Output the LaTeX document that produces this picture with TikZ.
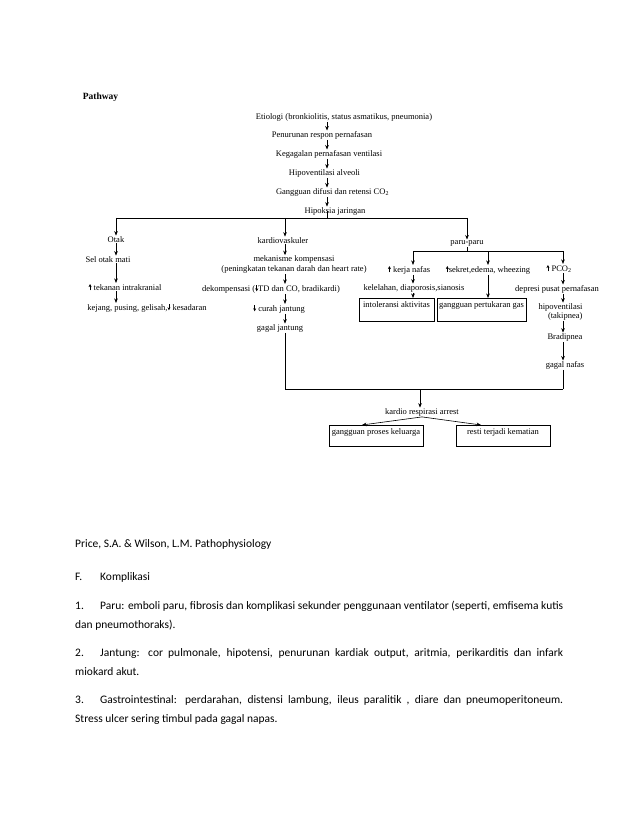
\documentclass[tikz,border=0pt]{standalone}
\usepackage{fontspec}
\setmainfont{Liberation Serif}
\newfontfamily\docfont{Carlito}
\usetikzlibrary{arrows.meta}

% small filled arrows used inside the labels
\newcommand{\upsym}{\tikz[baseline=0pt, x=1pt, y=1pt]\draw[-{Stealth[length=3pt,width=3pt]}, line width=0.7pt] (0,0) -- (0,6.2);}
\newcommand{\downsym}{\tikz[baseline=0pt, x=1pt, y=1pt]\draw[-{Stealth[length=3pt,width=3pt]}, line width=0.7pt] (0,6.2) -- (0,0);}

\begin{document}
\begin{tikzpicture}[
x=1pt, y=-1pt,
every node/.style={inner sep=0.6pt, font=\fontsize{8.5}{9.4}\selectfont},
box/.style={draw, line width=0.6pt, inner xsep=0pt, inner ysep=2pt, anchor=north},
arrow/.style={-{Stealth[length=4.5pt,width=3.6pt]}, line width=0.6pt},
link/.style={line width=0.6pt},
doc/.style={anchor=mid west, inner sep=0pt, font=\docfont\fontsize{11.47}{14}\selectfont}
]
\fill[white] (0,0) rectangle (638,826);
\useasboundingbox (0,0) rectangle (638,826);

% column positions
\coordinate (spine) at (327,0);
\coordinate (leftx) at (116,0);
\coordinate (cardx) at (285,0);
\coordinate (parux) at (467,0);
\coordinate (kerjax) at (413,0);
\coordinate (sekretx) at (488,0);
\coordinate (pcox) at (563,0);
\coordinate (arrestx) at (420,0);
\coordinate (bar) at (0,218);
\coordinate (fork) at (0,251);
\coordinate (join) at (0,389);

\node[anchor=mid west, font=\bfseries\fontsize{9.5}{11}\selectfont] (title) at (82,97) {Pathway};

% main chain
\node[anchor=mid] (etio) at (344,117) {Etiologi (bronkiolitis, status asmatikus, pneumonia)};
\node[anchor=mid] (penur) at (322,135) {Penurunan respon pernafasan};
\node[anchor=mid] (kegag) at (329,154) {Kegagalan pernafasan ventilasi};
\node[anchor=mid] (hipoal) at (324.5,173) {Hipoventilasi alveoli};
\node[anchor=mid] (difusi) at (332.5,192) {Gangguan difusi dan retensi CO\textsubscript{2}};
\node[anchor=mid] (hipoks) at (335,211) {Hipoksia jaringan};

% otak
\node[anchor=mid] (otak) at (116,240) {Otak};
\node[anchor=mid] (selotak) at (108,260) {Sel otak mati};
\node[anchor=mid] (tekanan) at (125,288) {\upsym{} tekanan intrakranial};
\node[anchor=mid] (kejang) at (147,308) {kejang, pusing, gelisah,\downsym{} kesadaran};

% kardiovaskuler
\node[anchor=mid] (kardio) at (283,241) {kardiovaskuler};
\node[align=center] (mekan) at (294,264.5) {mekanisme kompensasi\\(peningkatan tekanan darah dan heart rate)};
\node[anchor=mid] (dekomp) at (271,289) {dekompensasi (\downsym TD dan CO, bradikardi)};
\node[anchor=mid] (curah) at (279,309) {\downsym{} curah jantung};
\node[anchor=mid] (gagalj) at (280,328) {gagal jantung};

% paru-paru
\node[anchor=mid] (paru) at (467,242) {paru-paru};
\node[anchor=mid] (kerja) at (409,270) {\upsym{} kerja nafas};
\node[anchor=mid] (sekret) at (488,270) {\upsym sekret,edema, wheezing};
\node[anchor=mid] (pco) at (559,269) {\upsym{} PCO\textsubscript{2}};
\node[anchor=mid] (kelel) at (414,288) {kelelahan, diaporosis,sianosis};
\node[box, minimum width=75pt, text height=7pt, text depth=12pt] (intol) at (396.5,298) {intoleransi aktivitas};
\node[box, minimum width=89pt, text height=7pt, text depth=12pt] (gangg) at (481.5,298) {gangguan pertukaran gas};
\node[anchor=mid] (depresi) at (557,289) {depresi pusat pernafasan};
\node[align=right] (hipov) at (560.5,312) {hipoventilasi\\(takipnea)};
\node[anchor=mid] (bradi) at (565,337) {Bradipnea};
\node[anchor=mid] (gagaln) at (565,365) {gagal nafas};

% arrest
\node[anchor=mid] (arrest) at (422,412) {kardio respirasi arrest};
\node[box, minimum width=94pt, text height=7pt, text depth=10pt] (lbox) at (376,425) {gangguan proses keluarga};
\node[box, minimum width=94pt, text height=7pt, text depth=10pt] (rbox) at (503,425) {resti terjadi kematian};

\draw[arrow] (etio.south -| spine) -- (penur.north -| spine);
\draw[arrow] (penur.south -| spine) -- (kegag.north -| spine);
\draw[arrow] (kegag.south -| spine) -- (hipoal.north -| spine);
\draw[arrow] (hipoal.south -| spine) -- (difusi.north -| spine);
\draw[arrow] (difusi.south -| spine) -- (hipoks.north -| spine);
\draw[link] (hipoks.mid -| spine) -- (bar -| spine);
\draw[link] (bar -| leftx) -- (bar -| parux);

\draw[arrow] (bar -| leftx) -- (otak.north -| leftx);
\draw[arrow] (otak.south -| leftx) -- (selotak.north -| leftx);
\draw[arrow] (selotak.south -| leftx) -- (tekanan.north -| leftx);
\draw[arrow] (tekanan.south -| leftx) -- (kejang.north -| leftx);

\draw[arrow] (bar -| cardx) -- (kardio.north -| cardx);
\draw[arrow] (kardio.south -| cardx) -- (mekan.north -| cardx);
\draw[arrow] (mekan.south -| cardx) -- (dekomp.north -| cardx);
\draw[arrow] (dekomp.south -| cardx) -- (curah.north -| cardx);
\draw[arrow] (curah.south -| cardx) -- (gagalj.north -| cardx);
\draw[link] (gagalj.south -| cardx) -- (join -| cardx);

\draw[arrow] (bar -| parux) -- (paru.north -| parux);
\draw[link] (paru.south -| parux) -- (fork -| parux);
\draw[link] (fork -| kerjax) -- (fork -| pcox);
\draw[arrow] (fork -| kerjax) -- (kerja.north -| kerjax);
\draw[arrow] (fork -| sekretx) -- (sekret.north -| sekretx);
\draw[arrow] (fork -| pcox) -- (pco.north -| pcox);
\draw[arrow] (kerja.south -| kerjax) -- (kelel.north -| kerjax);
\draw[arrow] (kelel.south -| kerjax) -- (intol.north -| kerjax);
\draw[arrow] (sekret.south -| sekretx) -- (gangg.north -| sekretx);
\draw[arrow] (pco.south -| pcox) -- (depresi.north -| pcox);
\draw[arrow] (depresi.south -| pcox) -- (hipov.north -| pcox);
\draw[arrow] (hipov.south -| pcox) -- (bradi.north -| pcox);
\draw[arrow] (bradi.south -| pcox) -- (gagaln.north -| pcox);
\draw[link] (gagaln.south -| pcox) -- (join -| pcox);

\draw[link] (join -| cardx) -- (join -| pcox);
\draw[arrow] (join -| arrestx) -- (arrest.north -| arrestx);
\draw[arrow] (arrest.south) -- ([xshift=-14pt]lbox.north);
\draw[arrow] (arrest.south) -- ([xshift=-22pt]rbox.north);

% text below the diagram
\node[doc] (source) at (75,545) {Price, S.A. \& Wilson, L.M. Pathophysiology};
\node[doc] (fnum) at (75,578) {F.};
\node[doc] (fhead) at (100,578) {Komplikasi};
\node[doc] (num1) at (75,607) {1.};
\node[doc] (item1a) at (100,607) {\makebox[463pt][s]{Paru: emboli paru, fibrosis dan komplikasi sekunder penggunaan ventilator (seperti, emfisema kutis}};
\node[doc] (item1b) at (75,626) {dan pneumothoraks).};
\node[doc] (num2) at (75,654) {2.};
\node[doc] (item2a) at (100,654) {\makebox[463pt][s]{Jantung: cor pulmonale, hipotensi, penurunan kardiak output, aritmia, perikarditis dan infark}};
\node[doc] (item2b) at (75,673) {miokard akut.};
\node[doc] (num3) at (75,701) {3.};
\node[doc] (item3a) at (100,701) {\makebox[463pt][s]{Gastrointestinal: perdarahan, distensi lambung, ileus paralitik , diare dan pneumoperitoneum.}};
\node[doc] (item3b) at (75,720) {Stress ulcer sering timbul pada gagal napas.};

\end{tikzpicture}
\end{document}
